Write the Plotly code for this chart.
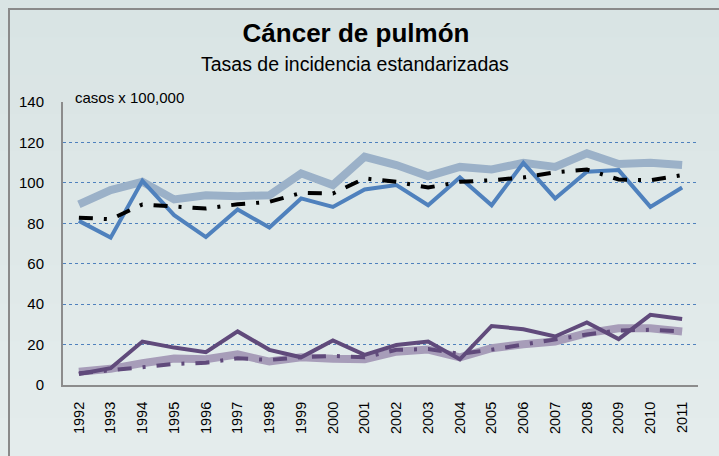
import plotly.graph_objects as go

years = [str(y) for y in range(1992, 2012)]

men_ref = [89.4, 96.4, 100.5, 91.8, 93.9, 93.4, 93.9, 104.7, 98.9, 112.9,
           108.8, 103.3, 107.9, 106.6, 109.9, 107.9, 114.6, 109.3, 109.9, 108.8]
men_obs = [81.2, 72.9, 101.0, 84.0, 73.2, 86.8, 77.9, 92.3, 88.1, 96.7,
           98.9, 88.9, 102.7, 88.9, 109.9, 92.3, 105.5, 106.3, 88.1, 97.7]
men_trend = [82.8, 82.0, 89.3, 88.1, 87.3, 89.4, 90.6, 95.0, 94.7, 102.2,
             100.5, 97.7, 100.5, 101.3, 102.7, 105.2, 106.6, 101.7, 101.3, 103.8]

women_ref = [6.6, 8.0, 10.8, 13.1, 12.8, 15.2, 11.6, 13.7, 13.0, 12.8,
             16.5, 17.5, 13.7, 18.2, 20.2, 21.5, 25.7, 28.1, 28.1, 26.5]
women_obs = [5.4, 8.3, 21.5, 18.5, 16.2, 26.5, 17.4, 13.7, 22.0, 14.9,
             19.8, 21.5, 12.7, 29.2, 27.6, 24.0, 30.9, 22.7, 34.7, 32.6]
women_trend = [5.8, 7.1, 8.8, 10.4, 11.0, 13.2, 12.4, 13.7, 14.4, 13.7,
               17.4, 17.8, 15.4, 17.5, 20.0, 22.7, 25.0, 27.0, 27.3, 26.5]

y_ticks = [0, 20, 40, 60, 80, 100, 120, 140]

FONT = "Liberation Sans, Arial, sans-serif"
W, H = 719, 456
L, R, T, B = 63, 21, 102, 71
PW, PH = W - L - R, H - T - B
DASHDOT = "14px,11px,3px,11px"


def px_x(x):
    return (x - L) / PW


def px_y(y):
    return (H - B - y) / PH


fig = go.Figure()
fig.add_trace(go.Scatter(x=years, y=men_ref, mode="lines",
                         line=dict(color="#9bb1c8", width=8)))
fig.add_trace(go.Scatter(x=years, y=men_obs, mode="lines",
                         line=dict(color="#4f81bd", width=4)))
fig.add_trace(go.Scatter(x=years, y=men_trend, mode="lines",
                         line=dict(color="#000000", width=4, dash=DASHDOT)))
fig.add_trace(go.Scatter(x=years, y=women_ref, mode="lines",
                         line=dict(color="#a79db9", width=8)))
fig.add_trace(go.Scatter(x=years, y=women_obs, mode="lines",
                         line=dict(color="#604a7b", width=4)))
fig.add_trace(go.Scatter(x=years, y=women_trend, mode="lines",
                         line=dict(color="#604a7b", width=4, dash=DASHDOT)))

# background vertical gradient (light blue-grey), drawn as thin bands
shapes = []
n_bands = 12
for i in range(n_bands):
    t = i / (n_bands - 1)
    r = round(217 + (228 - 217) * t)
    g = round(228 + (236 - 228) * t)
    col = f"rgb({r},{g},{g})"
    y_top = H * i / n_bands
    y_bot = H * (i + 1) / n_bands
    shapes.append(dict(type="rect", xref="paper", yref="paper",
                       x0=px_x(-5), x1=px_x(W + 5),
                       y0=px_y(y_bot + 0.5), y1=px_y(y_top - 0.5),
                       line=dict(width=0), fillcolor=col, layer="below"))
# outer frame
shapes.append(dict(type="rect", xref="paper", yref="paper",
                   x0=px_x(9), x1=px_x(W + 40), y0=px_y(H + 40), y1=px_y(9),
                   line=dict(color="#8a8a8a", width=2),
                   fillcolor="rgba(0,0,0,0)", layer="below"))

fig.update_layout(
    width=W, height=H,
    margin=dict(l=L, r=R, t=T, b=B, autoexpand=False),
    paper_bgcolor="#dee8e8",
    plot_bgcolor="rgba(0,0,0,0)",
    showlegend=False,
    font=dict(family=FONT, color="#000000", size=15),
    title=dict(text="<b>Cáncer de pulmón</b>", x=356 / W, xanchor="center",
               y=1 - 33 / H, yanchor="middle",
               font=dict(size=26, family=FONT, color="#000000")),
    xaxis=dict(type="category", range=[-0.5, len(years) - 0.5],
               tickangle=-90, showgrid=False,
               showline=True, linecolor="#8c8c8c", linewidth=2,
               ticks="outside", ticklen=9, tickcolor="rgba(0,0,0,0)",
               tickfont=dict(size=14.5, family=FONT)),
    yaxis=dict(range=[0, 140], tickvals=y_ticks, showgrid=True,
               gridcolor="#4f81bd", griddash="dot", gridwidth=1,
               showline=True, linecolor="#8c8c8c", linewidth=2,
               ticks="outside", ticklen=14, tickcolor="rgba(0,0,0,0)",
               zeroline=False, tickfont=dict(size=15, family=FONT)),
    shapes=shapes,
    annotations=[
        dict(text="Tasas de incidencia estandarizadas", xref="paper", yref="paper",
             x=px_x(355), y=px_y(64), xanchor="center", yanchor="middle",
             showarrow=False, font=dict(size=19.5, family=FONT)),
        dict(text="casos x 100,000", xref="paper", yref="paper",
             x=px_x(73), y=px_y(97), xanchor="left", yanchor="middle",
             showarrow=False, font=dict(size=15, family=FONT)),
    ],
)

fig.write_html(
    "out.html",
    config={"displayModeBar": False},
    post_script="document.body.style.margin='0';document.body.style.background='#d9e4e4';",
)
